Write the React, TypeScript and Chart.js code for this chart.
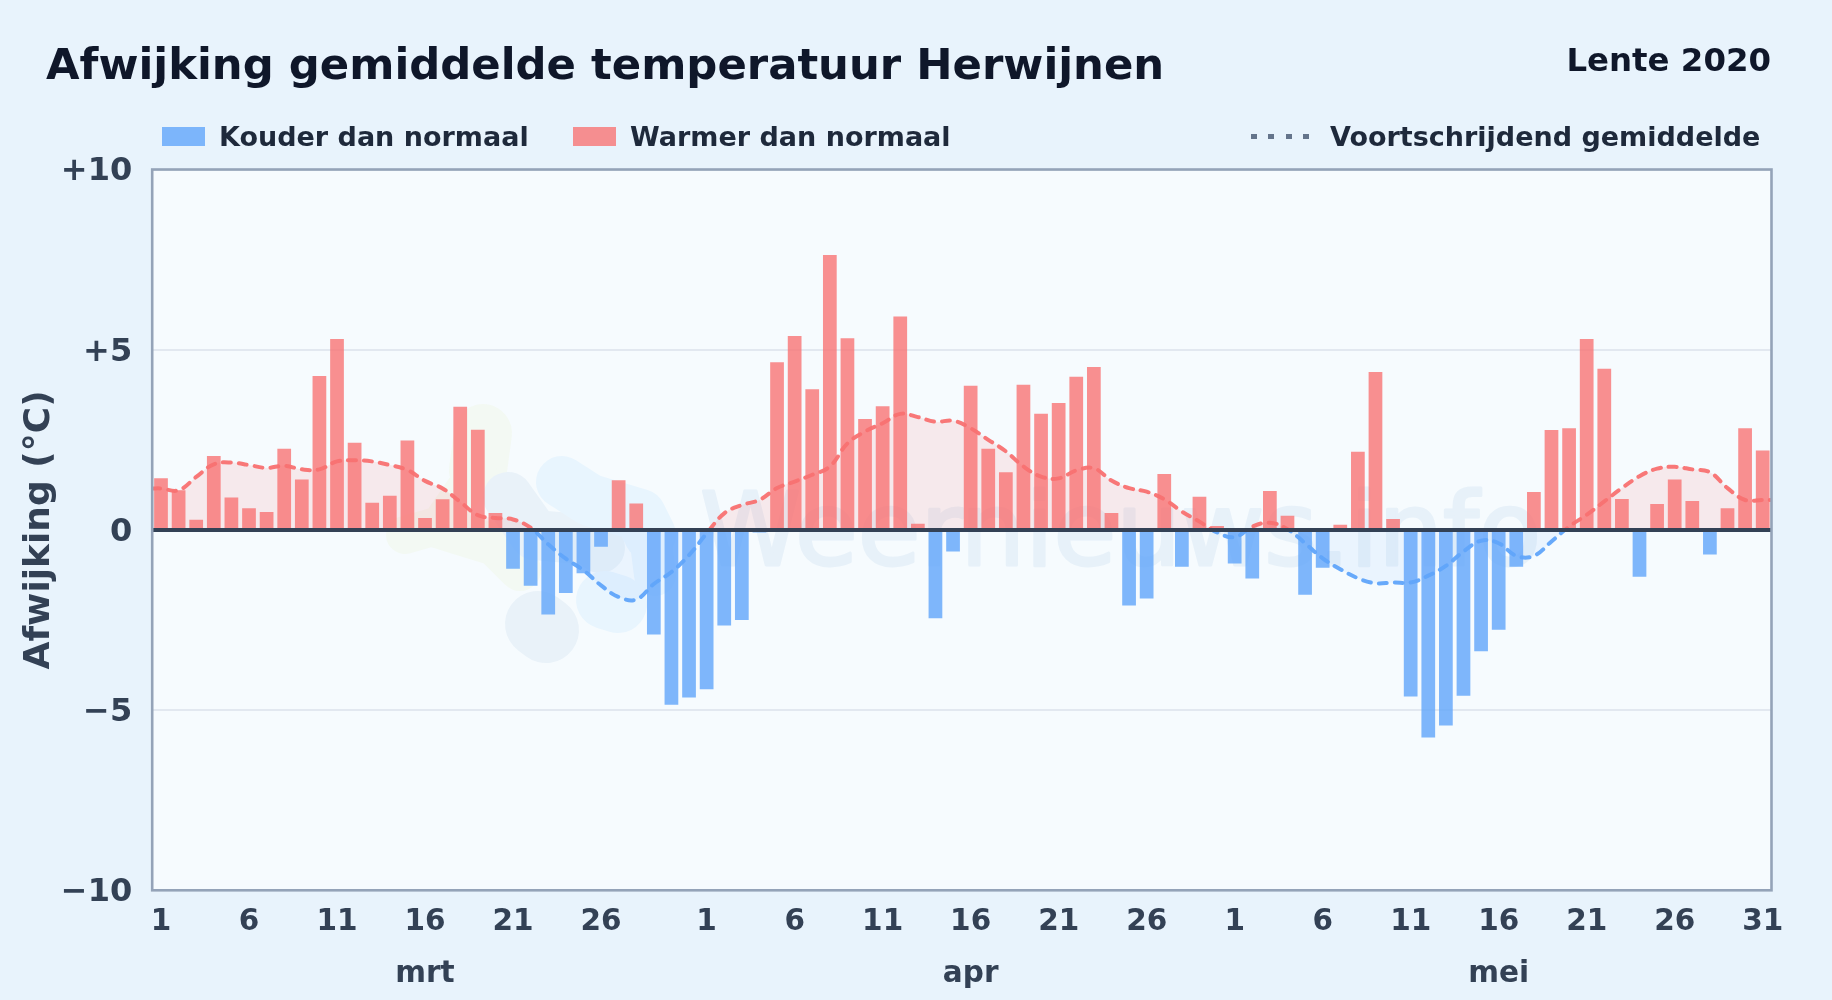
import React, { useEffect, useRef } from "react";
import { Chart, registerables } from "chart.js";

Chart.register(...registerables);

const TITLE = "Afwijking gemiddelde temperatuur Herwijnen";
const PERIOD = "Lente 2020";
const LEGEND_COLD = "Kouder dan normaal";
const LEGEND_WARM = "Warmer dan normaal";
const LEGEND_AVG = "Voortschrijdend gemiddelde";
const Y_TITLE = "Afwijking (°C)";
const WATERMARK = "Weernieuws.info";

const months = ["mrt", "apr", "mei"];
const monthDays = [31, 30, 31];

const marchValues = [1.43, 1.1, 0.28, 2.05, 0.9, 0.6, 0.5, 2.25, 1.4, 4.27, 5.3, 2.42, 0.75, 0.95, 2.48, 0.33, 0.85, 3.42, 2.78, 0.47, -1.08, -1.55, -2.35, -1.75, -1.2, -0.47, 1.38, 0.73, -2.9, -4.85, -4.65];
const aprilValues = [-4.42, -2.65, -2.5, -0.07, 4.65, 5.38, 3.9, 7.63, 5.32, 3.08, 3.43, 5.92, 0.17, -2.45, -0.6, 4.0, 2.25, 1.6, 4.03, 3.22, 3.52, 4.25, 4.52, 0.47, -2.1, -1.9, 1.55, -1.02, 0.92, 0.11];
const mayValues = [-0.93, -1.35, 1.08, 0.39, -1.8, -1.05, 0.14, 2.17, 4.38, 0.3, -4.62, -5.76, -5.43, -4.6, -3.37, -2.77, -1.02, 1.05, 2.77, 2.82, 5.3, 4.47, 0.86, -1.3, 0.72, 1.4, 0.8, -0.68, 0.6, 2.82, 2.2];
const movingAverage = [1.15, 1.1, 1.47, 1.82, 1.87, 1.8, 1.72, 1.78, 1.68, 1.68, 1.9, 1.93, 1.9, 1.8, 1.66, 1.36, 1.15, 0.78, 0.41, 0.33, 0.29, 0.06, -0.4, -0.8, -1.12, -1.54, -1.86, -1.93, -1.5, -1.17, -0.7, -0.1, 0.46, 0.69, 0.83, 1.16, 1.34, 1.53, 1.76, 2.4, 2.73, 2.96, 3.22, 3.13, 3.0, 3.03, 2.82, 2.5, 2.18, 1.76, 1.48, 1.43, 1.65, 1.71, 1.37, 1.16, 1.06, 0.85, 0.51, 0.23, -0.07, -0.2, 0.09, 0.2, 0.02, -0.37, -0.79, -1.09, -1.34, -1.48, -1.46, -1.46, -1.27, -1.0, -0.6, -0.3, -0.37, -0.72, -0.72, -0.32, 0.09, 0.42, 0.79, 1.16, 1.49, 1.7, 1.75, 1.68, 1.6, 1.16, 0.83, 0.83];

const deviations = [...marchValues, ...aprilValues, ...mayValues];
const coldValues = deviations.map((v) => (v < 0 ? v : null));
const warmValues = deviations.map((v) => (v >= 0 ? v : null));

const categories: string[] = [];
monthDays.forEach((n, m) => {
  for (let d = 1; d <= n; d++) categories.push(`${d} ${months[m]}`);
});

const yTicks = [-10, -5, 0, 5, 10];
const xShownStep = 5;
const monthLabelDay = 16;

const COLD = "rgba(96,165,250,0.8)";
const WARM = "rgba(248,113,113,0.78)";
const PAGE_BG = "#e8f3fc";
const PLOT_BG = "#f6fbfe";
const TEXT_DARK = "#0f172a";
const TEXT_MID = "#1e293b";
const TEXT_AXIS = "#334155";
const FONT = "'DejaVu Sans', sans-serif";

// pale logo behind the plot: thick rounded strokes [colour, width, polyline]
const logoStrokes: [string, number, number[][]][] = [
  ["#f3f9f3", 58, [[483, 433], [478, 470]]],
  ["#f3f9f3", 38, [[478, 470], [440, 525], [405, 535]]],
  ["#f3f9f3", 42, [[440, 528], [495, 545], [520, 570]]],
  ["#e9f2f9", 50, [[508, 497], [535, 535], [590, 540], [600, 548]]],
  ["#e9f2f9", 66, [[538, 624], [546, 630]]],
  ["#e8f5fe", 52, [[562, 482], [590, 500], [640, 515], [650, 535]]],
  ["#e8f5fe", 42, [[650, 535], [655, 575]]],
  ["#e8f5fe", 58, [[605, 600], [618, 604]]],
];

const backdrop = {
  id: "backdrop",
  beforeDraw(chart: any) {
    const { ctx, chartArea: a } = chart;
    ctx.save();
    ctx.fillStyle = PLOT_BG;
    ctx.fillRect(a.left, a.top, a.right - a.left, a.bottom - a.top);
    ctx.beginPath();
    ctx.rect(a.left, a.top, a.right - a.left, a.bottom - a.top);
    ctx.clip();
    ctx.lineCap = "round";
    ctx.lineJoin = "round";
    logoStrokes.forEach(([color, width, pts]) => {
      ctx.strokeStyle = color;
      ctx.lineWidth = width;
      ctx.beginPath();
      pts.forEach(([x, y], i) => (i ? ctx.lineTo(x, y) : ctx.moveTo(x, y)));
      ctx.stroke();
    });
    ctx.font = `normal 102px ${FONT}`;
    ctx.fillStyle = "#e7f1f9";
    ctx.strokeStyle = "#e7f1f9";
    ctx.lineWidth = 3;
    ctx.textBaseline = "alphabetic";
    ctx.textAlign = "left";
    ctx.fillText(WATERMARK, 700, 565);
    ctx.strokeText(WATERMARK, 700, 565);
    ctx.restore();
  },
};

const frame = {
  id: "frame",
  afterDatasetsDraw(chart: any) {
    const { ctx, chartArea: a, scales } = chart;
    const y0 = scales.y.getPixelForValue(0);
    ctx.save();
    ctx.strokeStyle = "#334155";
    ctx.lineWidth = 4;
    ctx.beginPath();
    ctx.moveTo(a.left, y0);
    ctx.lineTo(a.right, y0);
    ctx.stroke();
    ctx.strokeStyle = "#94a3b8";
    ctx.lineWidth = 2.6;
    ctx.strokeRect(a.left, a.top, a.right - a.left, a.bottom - a.top);
    ctx.restore();
  },
};

function splitColor(top: string, bottom: string) {
  return (c: any) => {
    const { chart } = c;
    const { chartArea, scales } = chart;
    if (!chartArea) return top;
    const g = chart.ctx.createLinearGradient(0, chartArea.top, 0, chartArea.bottom);
    const s = (scales.y.getPixelForValue(0) - chartArea.top) / (chartArea.bottom - chartArea.top);
    g.addColorStop(0, top);
    g.addColorStop(s, top);
    g.addColorStop(s, bottom);
    g.addColorStop(1, bottom);
    return g;
  };
}

const abs = (style: React.CSSProperties): React.CSSProperties => ({
  position: "absolute",
  fontFamily: FONT,
  fontWeight: 700,
  whiteSpace: "nowrap",
  ...style,
});

export default function App() {
  const ref = useRef<HTMLCanvasElement>(null);
  useEffect(() => {
    const first = movingAverage[0];
    const last = movingAverage[movingAverage.length - 1];
    const lineData = [
      { x: -0.5, y: first },
      ...movingAverage.map((y, x) => ({ x, y })),
      { x: movingAverage.length - 0.5, y: last },
    ];
    const chart = new Chart(ref.current!, {
      type: "bar",
      data: {
        labels: categories,
        datasets: [
          {
            type: "line",
            label: LEGEND_AVG,
            data: lineData as any,
            xAxisID: "xLine",
            order: 0,
            tension: 0.4,
            pointRadius: 0,
            borderWidth: 4,
            borderDash: [8, 8],
            borderCapStyle: "round",
            borderColor: splitColor("rgba(248,113,113,0.95)", "rgba(96,165,250,0.95)") as any,
            fill: {
              target: { value: 0 },
              above: "rgba(248,113,113,0.13)",
              below: "rgba(96,165,250,0.08)",
            },
          } as any,
          { label: LEGEND_COLD, data: coldValues, backgroundColor: COLD, order: 1, grouped: false, barPercentage: 0.78, categoryPercentage: 1 },
          { label: LEGEND_WARM, data: warmValues, backgroundColor: WARM, order: 1, grouped: false, barPercentage: 0.78, categoryPercentage: 1 },
        ],
      },
      options: {
        responsive: false,
        animation: false,
        layout: { padding: { top: 169.5, right: 60.5, bottom: 0, left: 0 } },
        plugins: {
          legend: { display: false },
          tooltip: { enabled: false },
        },
        scales: {
          x: {
            offset: true,
            grid: { display: false, drawTicks: false },
            border: { display: false },
            afterFit: (s: any) => { s.height = 109.7; },
            ticks: {
              autoSkip: false,
              maxRotation: 0,
              padding: 6,
              color: TEXT_AXIS,
              font: { family: FONT, weight: "bold", size: 29.5, lineHeight: 1.76 },
              callback: (_v: any, i: number) => {
                const [dayText, month] = categories[i].split(" ");
                const day = Number(dayText);
                if ((day - 1) % xShownStep !== 0) return "";
                if (day === 31 && month !== months[months.length - 1]) return "";
                return day === monthLabelDay ? [dayText, month] : dayText;
              },
            },
          },
          xLine: { type: "linear", display: false, offset: false, min: -0.5, max: movingAverage.length - 0.5 },
          y: {
            min: -10,
            max: 10,
            grid: { color: "#e2e8f0", lineWidth: 2, drawTicks: false },
            border: { display: false },
            afterBuildTicks: (s: any) => { s.ticks = yTicks.map((value) => ({ value })); },
            afterFit: (s: any) => { s.width = 152.2; },
            title: {
              display: true,
              text: Y_TITLE,
              color: TEXT_AXIS,
              font: { family: FONT, weight: "bold", size: 36 },
              padding: { top: 18, bottom: 0 },
            },
            ticks: {
              padding: 20,
              labelOffset: 2.5,
              color: TEXT_AXIS,
              font: { family: FONT, weight: "bold", size: 32 },
              callback: (v: any) => (v > 0 ? `+${v}` : v < 0 ? `\u2212${-v}` : "0"),
            },
          },
        } as any,
      },
      plugins: [backdrop, frame],
    } as any);
    return () => chart.destroy();
  }, []);

  return (
    <div style={{ position: "absolute", left: 0, top: 0, width: 1832, height: 1000, background: PAGE_BG, overflow: "hidden" }}>
      <canvas ref={ref} width={1832} height={1000} style={{ position: "absolute", left: 0, top: 0 }} />
      <div style={abs({ left: 46, top: 37, fontSize: 43.35, lineHeight: "54px", color: TEXT_DARK })}>{TITLE}</div>
      <div style={abs({ right: 61, top: 40, fontSize: 32.4, lineHeight: "40px", color: TEXT_DARK })}>{PERIOD}</div>
      <div style={abs({ left: 162, top: 127, width: 43, height: 19, background: COLD })} />
      <div style={abs({ left: 219, top: 118, fontSize: 27, lineHeight: "38px", color: TEXT_MID })}>{LEGEND_COLD}</div>
      <div style={abs({ left: 573, top: 127, width: 43, height: 19, background: WARM })} />
      <div style={abs({ left: 630, top: 118, fontSize: 27, lineHeight: "38px", color: TEXT_MID })}>{LEGEND_WARM}</div>
      {[0, 1, 2, 3].map((i) => (
        <div key={i} style={abs({ left: 1251 + i * 17.3, top: 134, width: 6, height: 5, background: "#64748b" })} />
      ))}
      <div style={abs({ left: 1330, top: 118, fontSize: 27, lineHeight: "38px", color: TEXT_MID })}>{LEGEND_AVG}</div>
    </div>
  );
}
